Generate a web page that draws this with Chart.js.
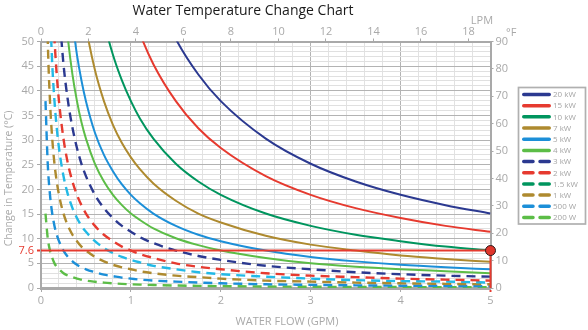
<!DOCTYPE html>
<html><head><meta charset="utf-8">
<script src="https://cdn.jsdelivr.net/npm/chart.js@4.4.0/dist/chart.umd.min.js"></script>
<style>html,body{margin:0;padding:0;background:#fff}canvas{display:block}</style>
</head><body>
<canvas id="c" width="588" height="330"></canvas>
<script>
// ---------- data ----------
const chartTitle = 'Water Temperature Change Chart';
const xAxisTitle = 'WATER FLOW (GPM)';
const yAxisTitle = 'Change in Temperature (\u00B0C)';
const topUnit = 'LPM';
const rightUnit = '\u00B0F';
const markerTemp = 7.6;      // highlighted reading (°C)
const markerFlow = 5;        // at 5 GPM
const lpmMax = 18.927;       // 5 GPM expressed in LPM
const fMax = 90;             // 50 °C span expressed in °F

const flowGpm = [0.05, 0.075, 0.1, 0.125, 0.15, 0.175, 0.2, 0.25, 0.3, 0.35, 0.4, 0.45, 0.5, 0.6, 0.7, 0.8, 0.9, 1.0, 1.1, 1.25, 1.5, 1.75, 2.0, 2.5, 3.0, 3.5, 4.0, 4.5, 5.0];
const heaterLabels = ['20 kW','15 kW','10 kW','7 kW','5 kW','4 kW','3 kW','2 kW','1.5 kW','1 kW','500 W','200 W'];
const N = null;
const dT20kW  = [N,N,N,N,N,N,N,N,N,N,N,N,N,N,N,N,N,N, 68.8, 60.6, 50.5, 43.3, 37.9, 30.3, 25.2, 21.6, 18.9, 16.8, 15.1];
const dT15kW  = [N,N,N,N,N,N,N,N,N,N,N,N,N,N,N,N,N, 56.8, 51.6, 45.4, 37.9, 32.4, 28.4, 22.7, 18.9, 16.2, 14.2, 12.6, 11.4];
const dT10kW  = [N,N,N,N,N,N,N,N,N,N,N,N,N, 63.1, 54.1, 47.3, 42.1, 37.9, 34.4, 30.3, 25.2, 21.6, 18.9, 15.1, 12.6, 10.8, 9.5, 8.4, 7.6];
const dT7kW   = [N,N,N,N,N,N,N,N,N,N,N, 58.9, 53.0, 44.2, 37.9, 33.1, 29.4, 26.5, 24.1, 21.2, 17.7, 15.1, 13.3, 10.6, 8.8, 7.6, 6.6, 5.9, 5.3];
const dT5kW   = [N,N,N,N,N,N,N,N,N, 54.1, 47.3, 42.1, 37.9, 31.5, 27.0, 23.7, 21.0, 18.9, 17.2, 15.1, 12.6, 10.8, 9.5, 7.6, 6.3, 5.4, 4.7, 4.2, 3.8];
const dT4kW   = [N,N,N,N,N,N,N, 60.6, 50.5, 43.3, 37.9, 33.6, 30.3, 25.2, 21.6, 18.9, 16.8, 15.1, 13.8, 12.1, 10.1, 8.7, 7.6, 6.1, 5.0, 4.3, 3.8, 3.4, 3.0];
const dT3kW   = [N,N,N,N,N,N, 56.8, 45.4, 37.9, 32.5, 28.4, 25.2, 22.7, 18.9, 16.2, 14.2, 12.6, 11.4, 10.3, 9.1, 7.6, 6.5, 5.7, 4.5, 3.8, 3.2, 2.8, 2.5, 2.3];
const dT2kW   = [N,N,N, 60.6, 50.5, 43.3, 37.9, 30.3, 25.2, 21.6, 18.9, 16.8, 15.1, 12.6, 10.8, 9.5, 8.4, 7.6, 6.9, 6.1, 5.0, 4.3, 3.8, 3.0, 2.5, 2.2, 1.9, 1.7, 1.5];
const dT1500W = [N,N, 56.8, 45.4, 37.9, 32.5, 28.4, 22.7, 18.9, 16.2, 14.2, 12.6, 11.4, 9.5, 8.1, 7.1, 6.3, 5.7, 5.2, 4.5, 3.8, 3.2, 2.8, 2.3, 1.9, 1.6, 1.4, 1.3, 1.1];
const dT1kW   = [75.7, 50.5, 37.9, 30.3, 25.2, 21.6, 18.9, 15.1, 12.6, 10.8, 9.5, 8.4, 7.6, 6.3, 5.4, 4.7, 4.2, 3.8, 3.4, 3.0, 2.5, 2.2, 1.9, 1.5, 1.3, 1.1, 0.95, 0.84, 0.76];
const dT500W  = [37.9, 25.2, 18.9, 15.1, 12.6, 10.8, 9.5, 7.6, 6.3, 5.4, 4.7, 4.2, 3.8, 3.2, 2.7, 2.4, 2.1, 1.9, 1.7, 1.5, 1.3, 1.1, 0.95, 0.76, 0.63, 0.54, 0.47, 0.42, 0.38];
const dT200W  = [15.1, 10.1, 7.6, 6.1, 5.0, 4.3, 3.8, 3.0, 2.5, 2.2, 1.9, 1.7, 1.5, 1.26, 1.08, 0.95, 0.84, 0.76, 0.69, 0.61, 0.50, 0.43, 0.38, 0.30, 0.25, 0.22, 0.19, 0.17, 0.15];
const seriesValues = [dT20kW, dT15kW, dT10kW, dT7kW, dT5kW, dT4kW, dT3kW, dT2kW, dT1500W, dT1kW, dT500W, dT200W];

// ---------- styles ----------
const NAVY = '#2b3990', RED = '#e63a2f', DGREEN = '#00955e', TAN = '#ae8a2f', BLUE = '#1c8fd8', LGREEN = '#5cbd47', CYAN = '#22b9e6';
const lineColors   = [NAVY, RED, DGREEN, TAN, BLUE, LGREEN, NAVY, RED, CYAN,   TAN, BLUE, LGREEN];
const legendColors = [NAVY, RED, DGREEN, TAN, BLUE, LGREEN, NAVY, RED, DGREEN, TAN, BLUE, LGREEN];
const dashed       = [false,false,false,false,false,false,true,true,true,true,true,true];
const AXIS = '#a9a9a9', TXT = '#a9a9a9';
const isInt = v => Math.abs(v - Math.round(v)) < 1e-6;

Chart.defaults.font.family = '"Open Sans", "DejaVu Sans", sans-serif';

const datasets = seriesValues.map((vals, i) => ({
  label: heaterLabels[i],
  data: flowGpm.map((x, j) => ({x, y: vals[j]})),
  borderColor: lineColors[i],
  backgroundColor: lineColors[i],
  borderWidth: dashed[i] ? 2.4 : 2,
  borderDash: dashed[i] ? [9, 6] : [],
  pointRadius: 0,
  cubicInterpolationMode: 'monotone',
  fill: false,
  order: i + 1
}));
datasets.unshift({
  label: 'reading',
  data: [{x: 0, y: markerTemp}, {x: markerFlow, y: markerTemp}, {x: markerFlow, y: 0}],
  borderColor: RED,
  borderWidth: 2,
  pointRadius: [0, 5, 0],
  pointBackgroundColor: '#e0352b',
  pointBorderColor: '#2a1a1a',
  pointBorderWidth: 1,
  tension: 0,
  clip: false,
  order: -1
});

const decor = {
  id: 'decor',
  afterDraw(chart) {
    const ctx = chart.ctx;
    ctx.save();
    // title
    ctx.fillStyle = '#1a1a1a';
    ctx.font = '14px "Open Sans", sans-serif';
    ctx.textAlign = 'center';
    ctx.textBaseline = 'alphabetic';
    ctx.fillText(chartTitle, 243, 15);
    // unit labels
    ctx.fillStyle = TXT;
    ctx.font = '11px "Open Sans", sans-serif';
    ctx.fillText(topUnit, 482, 24);
    ctx.textAlign = 'left';
    ctx.fillText(rightUnit, 506, 36);
    // axis titles
    ctx.textAlign = 'center';
    ctx.fillText(xAxisTitle, 287, 325);
    ctx.save();
    ctx.translate(11.5, 178.5);
    ctx.rotate(-Math.PI / 2);
    ctx.font = '10.5px "Open Sans", sans-serif';
    ctx.fillText(yAxisTitle, 0, 0);
    ctx.restore();
    // legend
    const L = 518.5, T = 87.5, W = 67, H = 136.5;
    ctx.fillStyle = '#fff';
    ctx.fillRect(L, T, W, H);
    ctx.strokeStyle = '#b0b0b0';
    ctx.lineWidth = 1.7;
    ctx.strokeRect(L, T, W, H);
    ctx.font = '8px "Open Sans", sans-serif';
    ctx.textAlign = 'left';
    ctx.textBaseline = 'middle';
    for (let i = 0; i < heaterLabels.length; i++) {
      const y = 94.5 + i * 11.18;
      ctx.beginPath();
      ctx.strokeStyle = legendColors[i];
      ctx.lineWidth = 3.5;
      ctx.lineCap = 'round';
      ctx.setLineDash(dashed[i] ? [9.25, 7] : []);
      ctx.moveTo(523.75, y);
      ctx.lineTo(549.25, y);
      ctx.stroke();
      ctx.setLineDash([]);
      ctx.fillStyle = '#a4a4a4';
      ctx.fillText(heaterLabels[i], 553, y + 0.5);
    }
    ctx.restore();
  }
};

new Chart(document.getElementById('c'), {
  type: 'line',
  data: { datasets },
  plugins: [decor],
  options: {
    responsive: false,
    devicePixelRatio: 1,
    animation: false,
    layout: { padding: 0 },
    plugins: { legend: { display: false }, title: { display: false }, tooltip: { enabled: false } },
    scales: {
      x: {
        type: 'linear', position: 'bottom', min: 0, max: 5,
        afterFit(s) { s.height = 42; },
        ticks: {
          stepSize: 0.2, autoSkip: false, maxRotation: 0, padding: 2,
          callback: v => isInt(v) ? String(Math.round(v)) : '',
          color: TXT, font: { size: 11 }
        },
        grid: {
          color: c => isInt(c.tick.value) ? '#b3b3b3' : '#e2e2e2',
          tickColor: c => Math.abs(c.tick.value - markerFlow) < 1e-6 ? RED : (isInt(c.tick.value) ? AXIS : 'rgba(0,0,0,0)'),
          tickWidth: c => Math.abs(c.tick.value - markerFlow) < 1e-6 ? 2 : 1,
          tickLength: 4
        },
        border: { color: AXIS, width: 3 }
      },
      xTop: {
        type: 'linear', position: 'top', min: 0, max: lpmMax,
        afterFit(s) { s.height = 41.5; },
        afterBuildTicks(s) { s.ticks = s.ticks.filter(t => isInt(t.value) && t.value <= 18); },
        ticks: { stepSize: 2, autoSkip: false, maxRotation: 0, includeBounds: false, padding: 0, color: TXT, font: { size: 11 } },
        grid: { drawOnChartArea: false, tickLength: 3, color: AXIS },
        border: { color: AXIS, width: 2 }
      },
      y: {
        type: 'linear', position: 'left', min: 0, max: 50,
        afterFit(s) { s.width = 41; },
        afterBuildTicks(s) { s.ticks.push({ value: markerTemp }); s.ticks.sort((a, b) => a.value - b.value); },
        ticks: {
          stepSize: 1, autoSkip: false, padding: 3,
          callback: v => Math.abs(v - markerTemp) < 1e-6 ? String(markerTemp) : (v % 5 === 0 ? String(v) : ''),
          color: c => Math.abs(c.tick.value - markerTemp) < 1e-6 ? RED : TXT,
          font: { size: 11 }
        },
        grid: {
          color: c => Math.abs(c.tick.value - markerTemp) < 1e-6 ? 'rgba(0,0,0,0)' : (c.tick.value % 5 === 0 ? '#b3b3b3' : '#e0e0e0'),
          tickColor: c => Math.abs(c.tick.value - markerTemp) < 1e-6 ? RED : (c.tick.value % 5 === 0 ? AXIS : 'rgba(0,0,0,0)'),
          tickWidth: c => Math.abs(c.tick.value - markerTemp) < 1e-6 ? 2 : 1,
          tickLength: 4
        },
        border: { color: AXIS, width: 2 }
      },
      yF: {
        type: 'linear', position: 'right', min: 0, max: fMax,
        afterFit(s) { s.width = 97.5; },
        ticks: { stepSize: 10, padding: 2, color: TXT, font: { size: 11 } },
        grid: { drawOnChartArea: false, tickLength: 3, color: AXIS },
        border: { color: AXIS, width: 2 }
      }
    }
  }
});
</script>
</body></html>
